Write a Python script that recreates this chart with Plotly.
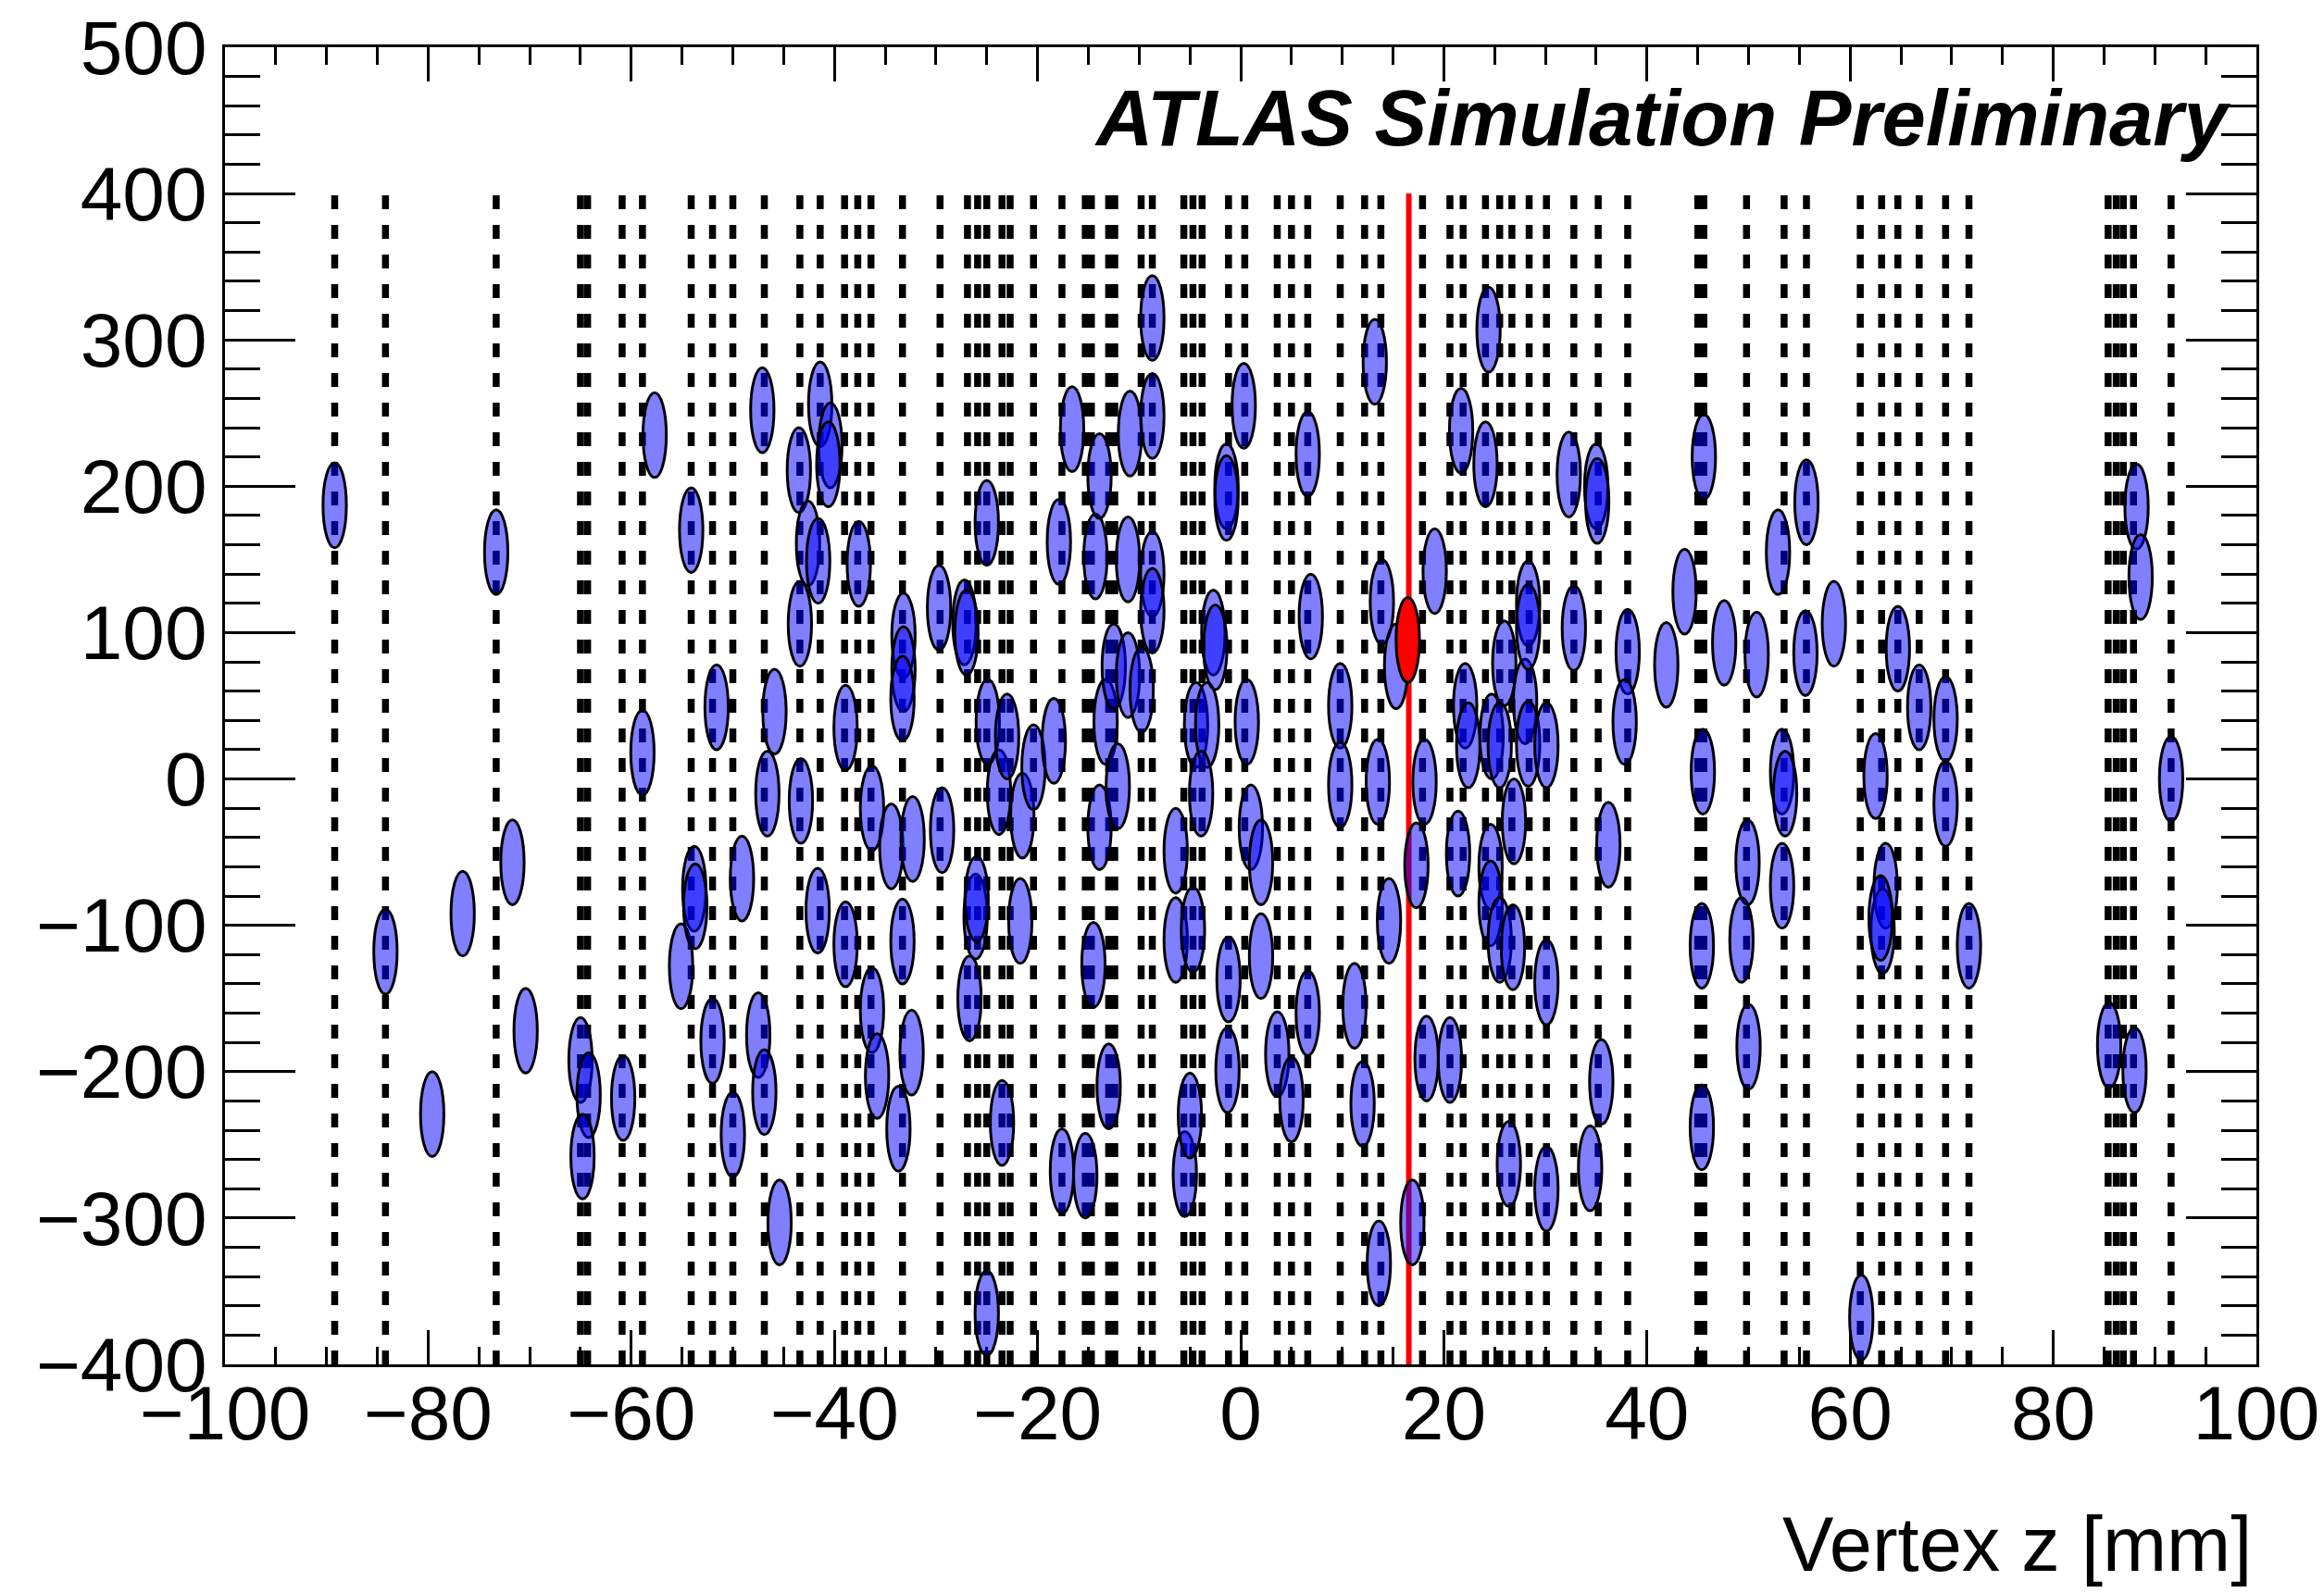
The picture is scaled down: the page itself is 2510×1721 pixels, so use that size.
import plotly.graph_objects as go

# ---------------- data ----------------
# z positions of the dashed (truth vertex) lines [mm]
line_z = [-89.2, -84.2, -73.3, -65.0, -64.3, -60.9, -58.9, -54.1, -52.0, -50.0,
          -46.9, -43.4, -41.4, -39.0, -37.7, -36.4, -33.3, -29.6, -26.9, -25.9,
          -25.0, -23.5, -22.7, -20.4, -17.6, -15.3, -14.7, -13.0, -12.4, -9.8,
          -8.7, -5.6, -4.7, -3.8, -1.2, 0.4, 3.6, 5.0, 6.6, 9.8,
          12.2, 13.8, 17.9, 20.6, 21.9, 24.1, 25.5, 26.7, 28.4, 30.1,
          32.8, 35.2, 38.1, 45.0, 45.6, 49.8, 53.5, 55.7, 61.0, 63.1,
          64.7, 66.8, 69.4, 71.7, 85.4, 86.2, 86.9, 87.9, 91.6]

# z position of the selected (red) vertex line
red_line_z = [16.55]

# reconstructed vertices (ellipse centres): z [mm] and y
vtx_z = [-89.2, -84.2, -79.6, -76.6, -73.3, -71.7, -70.4, -65.0, -64.2, -64.8,
         -60.8, -58.9, -57.7, -55.1, -54.1, -53.8, -53.7, -52.0, -51.6, -50.0,
         -49.1, -47.1, -47.5, -46.9, -46.6, -45.9, -45.4, -43.5, -43.4, -43.3,
         -42.6, -41.6, -41.4, -40.4, -40.6, -41.65, -38.9, -38.9, -37.6, -36.3,
         -36.3, -35.8, -34.4, -33.3, -33.7, -33.2, -33.2, -33.3, -32.3, -32.4,
         -29.4, -29.7, -27.2, -27.0, -26.7, -26.1, -26.0, -25.0, -24.9, -25.0,
         -23.8, -23.5, -23.0, -21.7, -21.5, -20.4, -18.4, -17.9, -17.6, -16.6,
         -15.3, -14.3, -14.5, -13.9, -13.9, -13.3, -13.0, -12.5, -12.1, -11.1,
         -11.1, -10.9, -9.75, -8.7, -8.7, -8.7, -8.7, -6.4, -6.4, -5.5,
         -5.0, -4.7, -4.4, -3.3, -3.9, -2.7, -2.5, -1.4, -1.4, -1.2,
         -1.3, 0.3, 0.6, 1.0, 2.0, 2.0, 3.6, 5.0, 6.6, 6.9,
         6.6, 9.8, 9.8, 11.2, 12.0, 13.2, 13.9, 13.5, 14.6, 13.6,
         15.3, 17.3, 16.9, 18.1, 19.1, 18.3, 20.6, 21.4, 21.7, 22.1,
         22.4, 24.1, 24.4, 24.7, 25.5, 24.6, 24.6, 25.5, 26.8, 25.95,
         26.9, 26.4, 28.0, 28.3, 28.3, 28.3, 30.1, 30.1, 30.1, 32.3,
         32.8, 35.0, 35.1, 36.2, 35.5, 34.4, 38.1, 37.8, 41.9, 43.7,
         45.6, 45.5, 45.4, 45.4, 47.6, 50.8, 49.9, 49.3, 50.0, 52.9,
         53.3, 53.6, 53.3, 55.7, 55.6, 58.4, 62.5, 61.1, 63.5, 63.2,
         63.0, 64.7, 66.8, 69.4, 69.4, 71.7, 85.5, 88.0, 88.2, 88.6,
         91.6]
vtx_y = [187, -118, -229, -92, 155, -57, -172, -192, -216, -258,
         -218, 18, 235, -128, 170, -75, -87, -179, 49, -243,
         -68, 252, -175, -214, -10, 46, -303, 211, 106, -15,
         161, 149, 256, 228, 215, -90, 35, -113, 147, -20,
         -158, -203, -46, -111, -239, 98, 75, 55, -41, -187,
         -35, 117, 107, 100, -150, -94, -82, 175, 39, -365,
         -9, -235, 29, -97, -25, 8, 26, 162, -268, 239,
         -271, 152, -127, 207, -33, 39, -210, 77, -5, 150,
         71, 236, 61, 315, 248, 140, 115, -49, -110, -270,
         -230, -103, 37, 37, -10, 100, 90, 200, 192, -137,
         -199, 255, 39, -33, -57, -121, -188, -219, 222, 111,
         -160, 50, -4, -155, -222, 285, 121, -2, -97, -331,
         77, -59, -303, -2, 142, -191, -192, -51, 238, 50,
         23, 215, 307, 29, 23, -60, -85, -110, -115, 79,
         -29, -263, 53, 24, 120, 104, 23, -139, -280, 208,
         103, 200, 190, -45, -207, -266, 87, 39, 78, 128,
         220, 5, -114, -238, 93, 85, -57, -110, -183, 155,
         5, -10, -73, 189, 86, 106, 2, -368, -73, -104,
         -95, 89, 49, 41, -17, -114, -182, -199, 186, 138,
         0]

# selected (red) vertex
sel_z = [16.45]
sel_y = [95]

x_tick_vals = list(range(-100, 101, 20))
y_tick_vals = list(range(-400, 501, 100))

# ---------------- styling constants ----------------
HALF_DZ = 1.15    # ellipse half-width [mm]
HALF_DY = 29.0    # ellipse half-height
LINE_Y0, LINE_Y1 = -400, 400
FONT = "Liberation Sans, Arial, Helvetica, sans-serif"

fig = go.Figure()
# invisible trace so the axes exist with the proper scale
fig.add_trace(go.Scatter(x=[-100, 100], y=[-400, 500], mode="markers",
                         marker=dict(opacity=0), hoverinfo="skip", showlegend=False))

shapes = []
for z in line_z:
    shapes.append(dict(type="line", xref="x", yref="y", x0=z, x1=z,
                       y0=LINE_Y0, y1=LINE_Y1, layer="above",
                       line=dict(color="black", width=7.5, dash="15px,17px")))
for z in red_line_z:
    shapes.append(dict(type="line", xref="x", yref="y", x0=z, x1=z,
                       y0=LINE_Y0, y1=LINE_Y1, layer="above",
                       line=dict(color="#ff0000", width=6)))
for z, y in zip(vtx_z, vtx_y):
    shapes.append(dict(type="circle", xref="x", yref="y",
                       x0=z - HALF_DZ, x1=z + HALF_DZ, y0=y - HALF_DY, y1=y + HALF_DY,
                       layer="above", fillcolor="rgba(0,0,255,0.5)",
                       line=dict(color="black", width=3)))
for z, y in zip(sel_z, sel_y):
    shapes.append(dict(type="circle", xref="x", yref="y",
                       x0=z - HALF_DZ, x1=z + HALF_DZ, y0=y - HALF_DY, y1=y + HALF_DY,
                       layer="above", fillcolor="#ff0000",
                       line=dict(color="black", width=3)))

fig.update_layout(
    width=2510, height=1721, autosize=False,
    margin=dict(l=243, r=73, t=51, b=247, pad=0, autoexpand=False),
    paper_bgcolor="white", plot_bgcolor="white",
    font=dict(family=FONT, color="black", size=80),
    shapes=shapes,
    showlegend=False,
    annotations=[
        dict(text="<b><i>ATLAS Simulation Preliminary</i></b>",
             xref="paper", yref="paper", x=0.988, y=0.9465,
             xanchor="right", yanchor="middle", showarrow=False,
             font=dict(family=FONT, size=85, color="black")),
        dict(text="Vertex z [mm]",
             xref="paper", yref="paper", x=0.9986, y=-0.1370,
             xanchor="right", yanchor="middle", showarrow=False,
             font=dict(family=FONT, size=83, color="black")),
    ],
)

fig.update_xaxes(
    range=[-100, 100], tickmode="array", tickvals=x_tick_vals,
    ticks="inside", ticklen=37, tickwidth=3, tickcolor="black",
    showline=True, linecolor="black", linewidth=3, mirror="ticks",
    showgrid=False, zeroline=False, ticklabelstandoff=-20,
    ticklabeloverflow="allow", automargin=False,
    tickfont=dict(family=FONT, size=82, color="black"),
    minor=dict(dtick=5, tick0=0, ticks="inside", ticklen=19, tickwidth=3,
               tickcolor="black", showgrid=False),
)
fig.update_yaxes(
    range=[-400, 500], tickmode="array", tickvals=y_tick_vals,
    ticks="inside", ticklen=76, tickwidth=3, tickcolor="black",
    showline=True, linecolor="black", linewidth=3, mirror="ticks",
    showgrid=False, zeroline=False, ticklabelstandoff=0,
    ticklabeloverflow="allow", automargin=False,
    tickfont=dict(family=FONT, size=82, color="black"),
    minor=dict(dtick=20, tick0=0, ticks="inside", ticklen=38, tickwidth=3,
               tickcolor="black", showgrid=False),
)

# remove the browser's default 8px page margin so the figure fills the window
fig.write_html("out.html",
               config={"displayModeBar": False},
               post_script="document.body.style.margin='0';document.body.style.overflow='hidden';")
